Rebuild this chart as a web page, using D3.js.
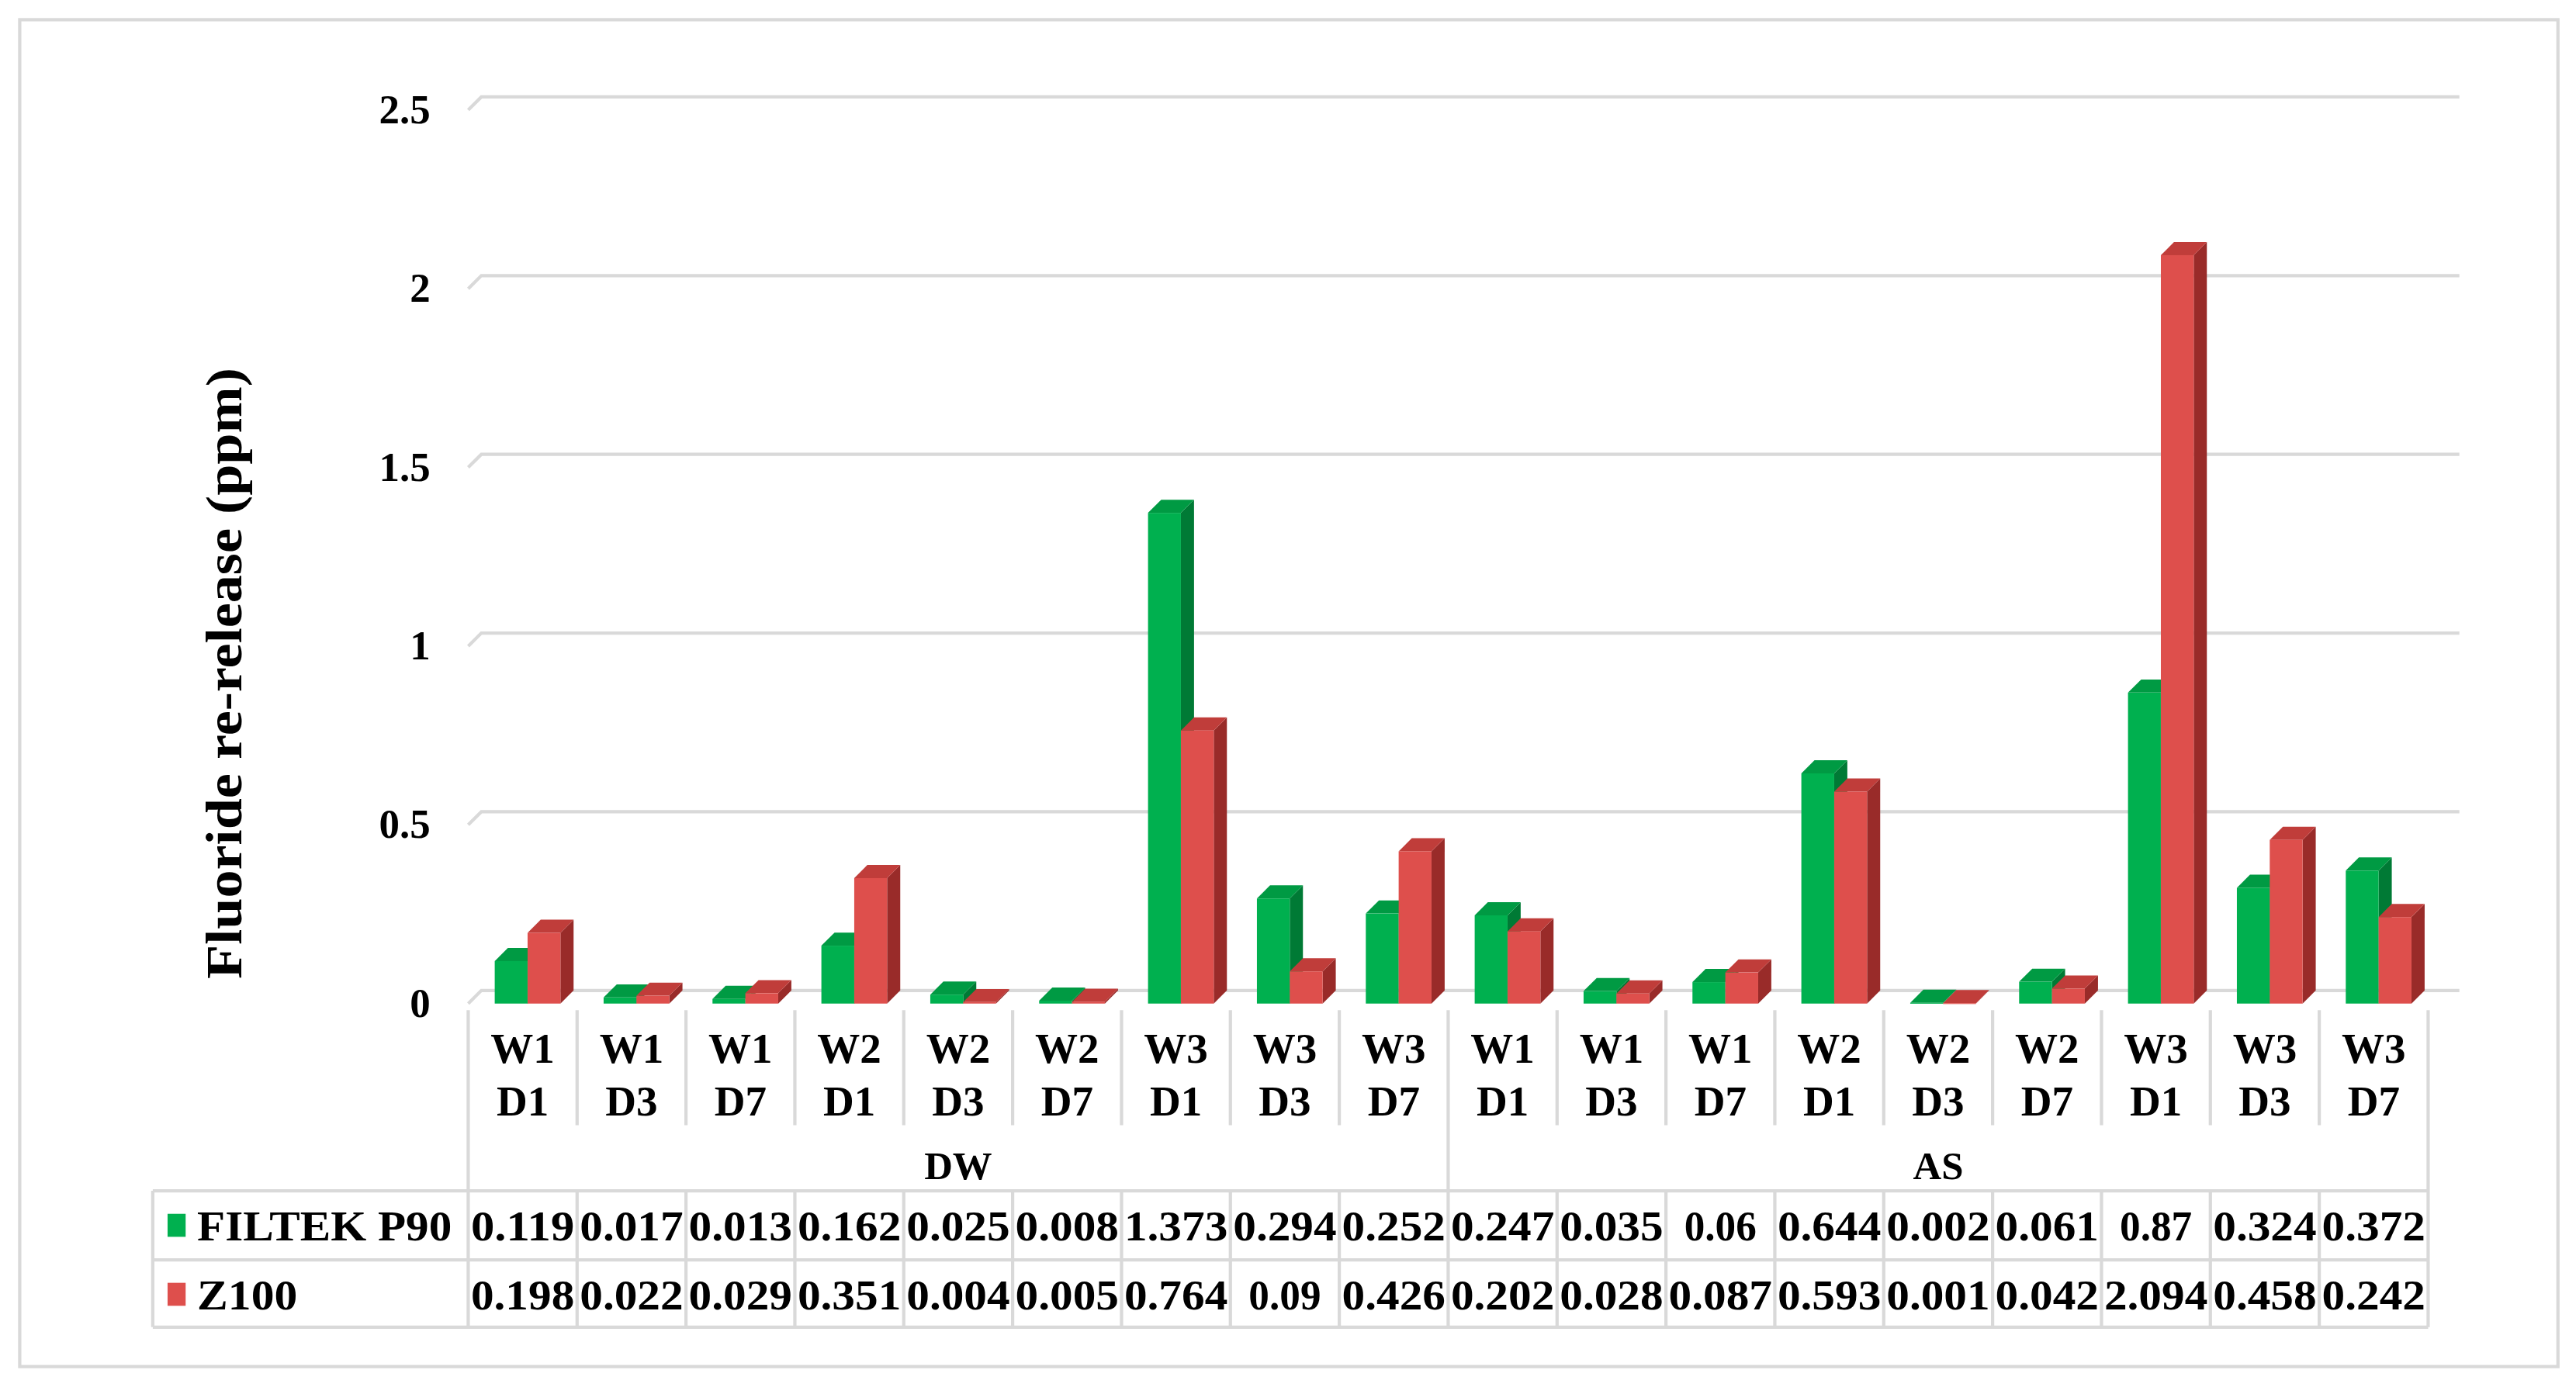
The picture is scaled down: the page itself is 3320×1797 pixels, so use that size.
<!DOCTYPE html><html><head><meta charset="utf-8">
<script src="https://cdn.jsdelivr.net/npm/d3@7"></script>
<style>body{margin:0;background:#fff}svg{display:block}</style></head><body>
<svg id="c" width="3320" height="1797" viewBox="0 0 1568 848.7"></svg>
<script>
const groups = ["DW","AS"];
const weeks = ["W1","W1","W1","W2","W2","W2","W3","W3","W3"];
const days = ["D1","D3","D7","D1","D3","D7","D1","D3","D7"];
const seriesNames = ["FILTEK P90","Z100"];
const filtek = [0.119,0.017,0.013,0.162,0.025,0.008,1.373,0.294,0.252,0.247,0.035,0.06,0.644,0.002,0.061,0.87,0.324,0.372];
const z100 = [0.198,0.022,0.029,0.351,0.004,0.005,0.764,0.09,0.426,0.202,0.028,0.087,0.593,0.001,0.042,2.094,0.458,0.242];
const filtekLabels = ["0.119","0.017","0.013","0.162","0.025","0.008","1.373","0.294","0.252","0.247","0.035","0.06","0.644","0.002","0.061","0.87","0.324","0.372"];
const z100Labels = ["0.198","0.022","0.029","0.351","0.004","0.005","0.764","0.09","0.426","0.202","0.028","0.087","0.593","0.001","0.042","2.094","0.458","0.242"];
const yTicks = [0,0.5,1,1.5,2,2.5];
const yTickLabels = ["0","0.5","1","1.5","2","2.5"];

const cats = [];
groups.forEach(g=>weeks.forEach((w,i)=>cats.push({g,w,d:days[i],key:g+w+days[i]})));
const svg = d3.select("#c");
const FONT = "'Liberation Serif','Times New Roman',serif";
svg.append("rect").attr("x",12).attr("y",12).attr("width",1545).attr("height",820).attr("fill","#fff").attr("stroke","#d9d9d9").attr("stroke-width",2);

const x0=285,x1=1478,dx=8,dy=8;
const x = d3.scaleBand().domain(cats.map(c=>c.key)).range([x0,x1]);
const y = d3.scaleLinear().domain([0,2.5]).range([611,67]);
const bw = x.bandwidth();

yTicks.forEach((t,i)=>{
  svg.append("path").attr("d",`M${x0},${y(t)} L${x0+dx},${y(t)-dy} L${1497},${y(t)-dy}`).attr("fill","none").attr("stroke","#d9d9d9").attr("stroke-width",2);
  svg.append("text").attr("x",262).attr("y",y(t)+8).attr("text-anchor","end").attr("font-family",FONT).attr("font-weight","bold").attr("font-size",25).text(yTickLabels[i]);
});
svg.append("text").attr("transform","translate(147,410) rotate(-90)").attr("text-anchor","middle").attr("font-family",FONT).attr("font-weight","bold").attr("font-size",31).attr("textLength",372).attr("lengthAdjust","spacingAndGlyphs").text("Fluoride re-release (ppm)");

const cols=[{vals:filtek,f:"#00b04f",s:"#007a35",t:"#009a43"},{vals:z100,f:"#de4f4c",s:"#992b29",t:"#c03d3a"}];
const barW=20;
cats.forEach((c,i)=>{
  const cx = x(c.key)+bw/2;
  cols.forEach((s,k)=>{
    const left = cx - barW + k*barW + 3;
    const top = y(s.vals[i]), bot=y(0);
    const g = svg.append("g");
    g.append("path").attr("d",`M${left+barW},${bot} L${left+barW+dx},${bot-dy} L${left+barW+dx},${top-dy} L${left+barW},${top}Z`).attr("fill",s.s);
    g.append("path").attr("d",`M${left},${top} L${left+dx},${top-dy} L${left+barW+dx},${top-dy} L${left+barW},${top}Z`).attr("fill",s.t);
    g.append("rect").attr("x",left).attr("y",top).attr("width",barW).attr("height",Math.max(0.5,bot-top)).attr("fill",s.f);
  });
});

const L="#d9d9d9";
function line(xa,ya,xb,yb){svg.append("line").attr("x1",xa).attr("y1",ya).attr("x2",xb).attr("y2",yb).attr("stroke",L).attr("stroke-width",2);}
cats.forEach((c,i)=>{
  const xl=x(c.key);
  line(xl,615,xl,i===0||i===9?725:685);
  svg.append("text").attr("x",xl+bw/2).attr("y",647).attr("text-anchor","middle").attr("font-family",FONT).attr("font-weight","bold").attr("font-size",26).text(c.w);
  svg.append("text").attr("x",xl+bw/2).attr("y",679).attr("text-anchor","middle").attr("font-family",FONT).attr("font-weight","bold").attr("font-size",26).text(c.d);
});
line(x1,615,x1,808);
groups.forEach((g,gi)=>{
  const a=x(cats[gi*9].key), b=x(cats[gi*9+8].key)+bw;
  svg.append("text").attr("x",(a+b)/2).attr("y",718).attr("text-anchor","middle").attr("font-family",FONT).attr("font-weight","bold").attr("font-size",24).text(g);
});
line(93,725,x1,725);line(93,767,x1,767);line(93,808,x1,808);line(93,725,93,808);
cats.forEach((c,i)=>line(x(c.key),725,x(c.key),808));
const labels=[filtekLabels,z100Labels];
seriesNames.forEach((n,k)=>{
  const yc = 746+k*42;
  svg.append("rect").attr("x",102).attr("y",yc-7).attr("width",11).attr("height",14).attr("fill",cols[k].f);
  svg.append("text").attr("x",120).attr("y",yc+9).attr("font-family",FONT).attr("font-weight","bold").attr("font-size",26).attr("textLength",k===0?155:61).attr("lengthAdjust","spacingAndGlyphs").text(n);
  cats.forEach((c,i)=>{const s=labels[k][i];svg.append("text").attr("x",x(c.key)+bw/2).attr("y",yc+9).attr("text-anchor","middle").attr("font-family",FONT).attr("font-weight","bold").attr("font-size",26).attr("textLength",s.length>4?63:44).attr("lengthAdjust","spacingAndGlyphs").text(s);});
});
</script></body></html>
